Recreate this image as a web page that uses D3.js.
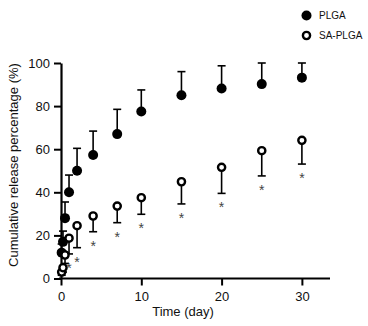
<!DOCTYPE html>
<html>
<head>
<meta charset="utf-8">
<script src="https://cdn.jsdelivr.net/npm/d3@7"></script>
<style>
  html, body { margin: 0; padding: 0; background: #fff; }
  svg { display: block; font-family: "Liberation Sans", Arial, sans-serif; }
</style>
</head>
<body>
<svg id="chart" width="368" height="326"></svg>
<script>
// ---- data ----
const days = [0.083, 0.25, 0.5, 1, 2, 4, 7, 10, 15, 20, 25, 30];
const plga = [12, 17, 28, 40, 50, 57.3, 67, 77.5, 85, 88.2, 90.2, 93.2];
const plgaErrTop = [16, 22, 35.5, 48, 60.4, 68.4, 78.5, 87.5, 96, 98.7, 100, 100];
const saPlga = [3, 5, 10.9, 18.7, 24.5, 29, 33.6, 37.5, 44.9, 51.6, 59.3, 64.1];
const saPlgaErrLow = [1.5, 3, 7, 11.4, 14.3, 21.7, 25.9, 29.8, 34.6, 39.5, 47.6, 53.1];
const starDays = [1, 2, 4, 7, 10, 15, 20, 25, 30];
const xTicks = [0, 10, 20, 30];
const yTicks = [0, 20, 40, 60, 80, 100];
const seriesNames = ["PLGA", "SA-PLGA"];
const xTitle = "Time (day)";
const yTitle = "Cumulative release percentage (%)";

// ---- layout ----
const svg = d3.select("#chart");
const x = d3.scaleLinear().domain([0, 33.5]).range([61, 330]);
const y = d3.scaleLinear().domain([0, 100]).range([278.5, 63]);

// axes
const xAxis = svg.append("g").attr("transform", `translate(0,${y(0)})`)
  .call(d3.axisBottom(x).tickValues(xTicks).tickSize(7).tickPadding(6).tickSizeOuter(0));
xAxis.select(".domain").attr("d", `M${x(0) - 2},0H${x.range()[1]}`);
const yAxis = svg.append("g").attr("transform", `translate(${x(0)},0)`)
  .call(d3.axisLeft(y).tickValues(yTicks).tickSize(7).tickPadding(4).tickSizeOuter(0));
svg.selectAll(".domain").attr("stroke", "#000").attr("stroke-width", 2.2);
svg.selectAll(".tick line").attr("stroke", "#000").attr("stroke-width", 2);
svg.selectAll(".tick text").attr("font-size", 13).attr("fill", "#111")
  .attr("font-family", "'Liberation Sans', Arial, sans-serif");

// axis titles
svg.append("text").attr("x", 183).attr("y", 316).attr("text-anchor", "middle")
  .attr("font-size", 13).attr("fill", "#111").text(xTitle);
svg.append("text").attr("transform", `translate(18,165) rotate(-90)`)
  .attr("text-anchor", "middle").attr("font-size", 13).attr("fill", "#111").text(yTitle);

const capW = 4;
const plot = svg.append("g");

// PLGA error bars (upward)
days.forEach((d, i) => {
  const g = plot.append("g");
  g.append("line").attr("x1", x(d)).attr("x2", x(d)).attr("y1", y(plga[i])).attr("y2", y(plgaErrTop[i]))
    .attr("stroke", "#000").attr("stroke-width", 1.6);
  g.append("line").attr("x1", x(d) - capW).attr("x2", x(d) + capW).attr("y1", y(plgaErrTop[i])).attr("y2", y(plgaErrTop[i]))
    .attr("stroke", "#000").attr("stroke-width", 1.6);
});
// SA-PLGA error bars (downward)
days.forEach((d, i) => {
  const g = plot.append("g");
  g.append("line").attr("x1", x(d)).attr("x2", x(d)).attr("y1", y(saPlga[i])).attr("y2", y(saPlgaErrLow[i]))
    .attr("stroke", "#000").attr("stroke-width", 1.6);
  g.append("line").attr("x1", x(d) - capW).attr("x2", x(d) + capW).attr("y1", y(saPlgaErrLow[i])).attr("y2", y(saPlgaErrLow[i]))
    .attr("stroke", "#000").attr("stroke-width", 1.6);
});

// PLGA markers
plot.selectAll("circle.plga").data(days).join("circle").attr("class", "plga")
  .attr("cx", d => x(d)).attr("cy", (d, i) => y(plga[i])).attr("r", 5).attr("fill", "#000");
// SA-PLGA markers
plot.selectAll("circle.sa").data(days).join("circle").attr("class", "sa")
  .attr("cx", d => x(d)).attr("cy", (d, i) => y(saPlga[i])).attr("r", 3.6)
  .attr("fill", "#fff").attr("stroke", "#000").attr("stroke-width", 2.4);

// significance asterisks
plot.selectAll("text.star").data(starDays).join("text").attr("class", "star")
  .attr("x", d => x(d)).attr("y", d => y(saPlgaErrLow[days.indexOf(d)]) + 19)
  .attr("text-anchor", "middle").attr("font-size", 14).attr("fill", "#444").text("*");

// legend
const leg = svg.append("g");
leg.append("circle").attr("cx", 306.5).attr("cy", 15.5).attr("r", 5).attr("fill", "#000");
leg.append("circle").attr("cx", 306.5).attr("cy", 35.5).attr("r", 3.6).attr("fill", "#fff")
  .attr("stroke", "#000").attr("stroke-width", 2.4);
leg.selectAll("text").data(seriesNames).join("text")
  .attr("x", 319).attr("y", (d, i) => 19 + i * 20).attr("font-size", 10).attr("fill", "#111").text(d => d);
</script>
</body>
</html>
